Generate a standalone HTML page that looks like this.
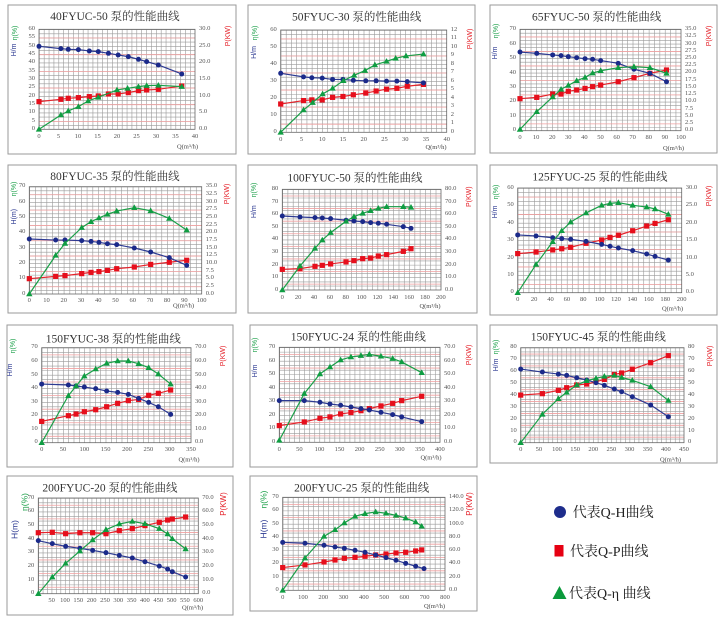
<!DOCTYPE html>
<html><head><meta charset="utf-8">
<style>
html,body{margin:0;padding:0;background:#fff;}
#w{position:relative;width:720px;height:621px;overflow:hidden;background:#fff;}
svg{position:absolute;left:0;top:0;}
.ln{fill:none;stroke-width:1.2;vector-effect:non-scaling-stroke;stroke-linejoin:round}
.h{stroke:#2d3a92}.p{stroke:#e5232b}.e{stroke:#1a9f48}
.mk{fill:none;stroke:none}
.g{stroke:#9a9a9a}.pk{stroke:#f0a0a0}
.fr{fill:#fff;stroke:#9a9a9a;stroke-width:1}
.pa{fill:none;stroke:#666;stroke-width:0.8}
.t{font-family:"Liberation Serif","Noto Serif CJK SC",serif;font-size:11.5px;fill:#333;text-anchor:middle}
.at{font-family:"Liberation Sans",sans-serif;font-size:7px;text-anchor:middle;dominant-baseline:middle}
.q{font-family:"Liberation Serif",serif;font-size:6.5px;fill:#444;text-anchor:middle;dominant-baseline:middle}
.lg{font-family:"Liberation Serif","Noto Serif CJK SC",serif;font-size:14px;fill:#222}
.yl{position:absolute;display:flex;flex-direction:column;justify-content:space-between;width:30px;font:6.5px "Liberation Serif",serif;color:#555}
.yl span{height:0;display:flex;align-items:center;justify-content:flex-end;line-height:1;white-space:nowrap}
.yr span{justify-content:flex-start}
.xl{position:absolute;display:flex;justify-content:space-between;height:0;font:6.5px "Liberation Serif",serif;color:#555}
.xl span{width:0;height:0;display:flex;justify-content:center;align-items:center;white-space:nowrap;line-height:1}
</style></head><body><div id="w">
<svg width="720" height="621" viewBox="0 0 720 621">
<defs>
<marker id="h1" markerUnits="userSpaceOnUse" markerWidth="1" markerHeight="1" overflow="visible"><g transform="scale(0.25641,-0.6)"><circle r="2.5" fill="#1b2a8a"/></g></marker>
<marker id="p1" markerUnits="userSpaceOnUse" markerWidth="1" markerHeight="1" overflow="visible"><g transform="scale(0.25641,-0.6)"><rect x="-2.6" y="-2.6" width="5.2" height="5.2" fill="#e60f1c"/></g></marker>
<marker id="e1" markerUnits="userSpaceOnUse" markerWidth="1" markerHeight="1" overflow="visible"><g transform="scale(0.25641,-0.6)"><path d="M0,-3.3L3.2,2.3L-3.2,2.3Z" fill="#0f9d42"/></g></marker>
<marker id="h2" markerUnits="userSpaceOnUse" markerWidth="1" markerHeight="1" overflow="visible"><g transform="scale(0.24096,-0.58651)"><circle r="2.5" fill="#1b2a8a"/></g></marker>
<marker id="p2" markerUnits="userSpaceOnUse" markerWidth="1" markerHeight="1" overflow="visible"><g transform="scale(0.24096,-0.58651)"><rect x="-2.6" y="-2.6" width="5.2" height="5.2" fill="#e60f1c"/></g></marker>
<marker id="e2" markerUnits="userSpaceOnUse" markerWidth="1" markerHeight="1" overflow="visible"><g transform="scale(0.24096,-0.58651)"><path d="M0,-3.3L3.2,2.3L-3.2,2.3Z" fill="#0f9d42"/></g></marker>
<marker id="h3" markerUnits="userSpaceOnUse" markerWidth="1" markerHeight="1" overflow="visible"><g transform="scale(0.62112,-0.69032)"><circle r="2.5" fill="#1b2a8a"/></g></marker>
<marker id="p3" markerUnits="userSpaceOnUse" markerWidth="1" markerHeight="1" overflow="visible"><g transform="scale(0.62112,-0.69032)"><rect x="-2.6" y="-2.6" width="5.2" height="5.2" fill="#e60f1c"/></g></marker>
<marker id="e3" markerUnits="userSpaceOnUse" markerWidth="1" markerHeight="1" overflow="visible"><g transform="scale(0.62112,-0.69032)"><path d="M0,-3.3L3.2,2.3L-3.2,2.3Z" fill="#0f9d42"/></g></marker>
<marker id="h4" markerUnits="userSpaceOnUse" markerWidth="1" markerHeight="1" overflow="visible"><g transform="scale(0.58005,-0.65236)"><circle r="2.5" fill="#1b2a8a"/></g></marker>
<marker id="p4" markerUnits="userSpaceOnUse" markerWidth="1" markerHeight="1" overflow="visible"><g transform="scale(0.58005,-0.65236)"><rect x="-2.6" y="-2.6" width="5.2" height="5.2" fill="#e60f1c"/></g></marker>
<marker id="e4" markerUnits="userSpaceOnUse" markerWidth="1" markerHeight="1" overflow="visible"><g transform="scale(0.58005,-0.65236)"><path d="M0,-3.3L3.2,2.3L-3.2,2.3Z" fill="#0f9d42"/></g></marker>
<marker id="h5" markerUnits="userSpaceOnUse" markerWidth="1" markerHeight="1" overflow="visible"><g transform="scale(1.26024,-0.79441)"><circle r="2.5" fill="#1b2a8a"/></g></marker>
<marker id="p5" markerUnits="userSpaceOnUse" markerWidth="1" markerHeight="1" overflow="visible"><g transform="scale(1.26024,-0.79441)"><rect x="-2.6" y="-2.6" width="5.2" height="5.2" fill="#e60f1c"/></g></marker>
<marker id="e5" markerUnits="userSpaceOnUse" markerWidth="1" markerHeight="1" overflow="visible"><g transform="scale(1.26024,-0.79441)"><path d="M0,-3.3L3.2,2.3L-3.2,2.3Z" fill="#0f9d42"/></g></marker>
<marker id="h6" markerUnits="userSpaceOnUse" markerWidth="1" markerHeight="1" overflow="visible"><g transform="scale(1.21951,-0.57307)"><circle r="2.5" fill="#1b2a8a"/></g></marker>
<marker id="p6" markerUnits="userSpaceOnUse" markerWidth="1" markerHeight="1" overflow="visible"><g transform="scale(1.21951,-0.57307)"><rect x="-2.6" y="-2.6" width="5.2" height="5.2" fill="#e60f1c"/></g></marker>
<marker id="e6" markerUnits="userSpaceOnUse" markerWidth="1" markerHeight="1" overflow="visible"><g transform="scale(1.21951,-0.57307)"><path d="M0,-3.3L3.2,2.3L-3.2,2.3Z" fill="#0f9d42"/></g></marker>
<marker id="h7" markerUnits="userSpaceOnUse" markerWidth="1" markerHeight="1" overflow="visible"><g transform="scale(2.34428,-0.73687)"><circle r="2.5" fill="#1b2a8a"/></g></marker>
<marker id="p7" markerUnits="userSpaceOnUse" markerWidth="1" markerHeight="1" overflow="visible"><g transform="scale(2.34428,-0.73687)"><rect x="-2.6" y="-2.6" width="5.2" height="5.2" fill="#e60f1c"/></g></marker>
<marker id="e7" markerUnits="userSpaceOnUse" markerWidth="1" markerHeight="1" overflow="visible"><g transform="scale(2.34428,-0.73687)"><path d="M0,-3.3L3.2,2.3L-3.2,2.3Z" fill="#0f9d42"/></g></marker>
<marker id="h8" markerUnits="userSpaceOnUse" markerWidth="1" markerHeight="1" overflow="visible"><g transform="scale(2.48911,-0.73687)"><circle r="2.5" fill="#1b2a8a"/></g></marker>
<marker id="p8" markerUnits="userSpaceOnUse" markerWidth="1" markerHeight="1" overflow="visible"><g transform="scale(2.48911,-0.73687)"><rect x="-2.6" y="-2.6" width="5.2" height="5.2" fill="#e60f1c"/></g></marker>
<marker id="e8" markerUnits="userSpaceOnUse" markerWidth="1" markerHeight="1" overflow="visible"><g transform="scale(2.48911,-0.73687)"><path d="M0,-3.3L3.2,2.3L-3.2,2.3Z" fill="#0f9d42"/></g></marker>
<marker id="h9" markerUnits="userSpaceOnUse" markerWidth="1" markerHeight="1" overflow="visible"><g transform="scale(2.75565,-0.84211)"><circle r="2.5" fill="#1b2a8a"/></g></marker>
<marker id="p9" markerUnits="userSpaceOnUse" markerWidth="1" markerHeight="1" overflow="visible"><g transform="scale(2.75565,-0.84211)"><rect x="-2.6" y="-2.6" width="5.2" height="5.2" fill="#e60f1c"/></g></marker>
<marker id="e9" markerUnits="userSpaceOnUse" markerWidth="1" markerHeight="1" overflow="visible"><g transform="scale(2.75565,-0.84211)"><path d="M0,-3.3L3.2,2.3L-3.2,2.3Z" fill="#0f9d42"/></g></marker>
<marker id="h10" markerUnits="userSpaceOnUse" markerWidth="1" markerHeight="1" overflow="visible"><g transform="scale(3.75,-0.73148)"><circle r="2.5" fill="#1b2a8a"/></g></marker>
<marker id="p10" markerUnits="userSpaceOnUse" markerWidth="1" markerHeight="1" overflow="visible"><g transform="scale(3.75,-0.73148)"><rect x="-2.6" y="-2.6" width="5.2" height="5.2" fill="#e60f1c"/></g></marker>
<marker id="e10" markerUnits="userSpaceOnUse" markerWidth="1" markerHeight="1" overflow="visible"><g transform="scale(3.75,-0.73148)"><path d="M0,-3.3L3.2,2.3L-3.2,2.3Z" fill="#0f9d42"/></g></marker>
<marker id="h11" markerUnits="userSpaceOnUse" markerWidth="1" markerHeight="1" overflow="visible"><g transform="scale(4.92902,-0.75269)"><circle r="2.5" fill="#1b2a8a"/></g></marker>
<marker id="p11" markerUnits="userSpaceOnUse" markerWidth="1" markerHeight="1" overflow="visible"><g transform="scale(4.92902,-0.75269)"><rect x="-2.6" y="-2.6" width="5.2" height="5.2" fill="#e60f1c"/></g></marker>
<marker id="e11" markerUnits="userSpaceOnUse" markerWidth="1" markerHeight="1" overflow="visible"><g transform="scale(4.92902,-0.75269)"><path d="M0,-3.3L3.2,2.3L-3.2,2.3Z" fill="#0f9d42"/></g></marker>
</defs>

<!-- frames -->
<rect class="fr" x="8" y="5" width="228" height="149"/>
<rect class="fr" x="248" y="5" width="227" height="149"/>
<rect class="fr" x="490" y="5" width="227" height="148"/>
<rect class="fr" x="8" y="165" width="228" height="148"/>
<rect class="fr" x="248" y="165" width="229" height="148"/>
<rect class="fr" x="490" y="165" width="227" height="150"/>
<rect class="fr" x="7" y="325" width="226" height="142"/>
<rect class="fr" x="250" y="325" width="227" height="142"/>
<rect class="fr" x="490" y="325" width="227" height="138"/>
<rect class="fr" x="7" y="476" width="226" height="139"/>
<rect class="fr" x="250" y="476" width="227" height="135"/>

<!-- grids -->
<line class="g" x1="39" y1="79.3" x2="195" y2="79.3" stroke-width="100" stroke-dasharray="0.6 4.275"/>
<line class="g" x1="117" y1="29.3" x2="117" y2="129.3" stroke-width="156" stroke-dasharray="0.6 3.567"/>
<line class="pk" x1="117" y1="37.63" x2="117" y2="129.3" stroke-width="156" stroke-dasharray="0.8 15.87"/>

<line class="g" x1="280.7" y1="81.15" x2="446.7" y2="81.15" stroke-width="102.3" stroke-dasharray="0.6 4.5875"/>
<line class="g" x1="363.7" y1="30" x2="363.7" y2="132.3" stroke-width="166" stroke-dasharray="0.6 3.6625"/>
<line class="pk" x1="363.7" y1="38.53" x2="363.7" y2="132.3" stroke-width="166" stroke-dasharray="0.8 16.25"/>

<line class="g" x1="520" y1="80" x2="681" y2="80" stroke-width="101.4" stroke-dasharray="0.6 4.767"/>
<line class="g" x1="600.5" y1="29.3" x2="600.5" y2="130.7" stroke-width="161" stroke-dasharray="0.6 3.021"/>
<line class="pk" x1="600.5" y1="36.54" x2="600.5" y2="130.7" stroke-width="161" stroke-dasharray="0.8 13.69"/>

<line class="g" x1="29.3" y1="240.35" x2="201.7" y2="240.35" stroke-width="107.3" stroke-dasharray="0.6 5.147"/>
<line class="g" x1="115.5" y1="186.7" x2="115.5" y2="294" stroke-width="172.4" stroke-dasharray="0.6 3.232"/>
<line class="pk" x1="115.5" y1="194.36" x2="115.5" y2="294" stroke-width="172.4" stroke-dasharray="0.8 14.53"/>

<line class="g" x1="282.3" y1="239.65" x2="441" y2="239.65" stroke-width="100.7" stroke-dasharray="0.6 4.69"/>
<line class="g" x1="361.65" y1="189.3" x2="361.65" y2="290" stroke-width="158.7" stroke-dasharray="0.6 3.596"/>
<line class="pk" x1="361.65" y1="195.59" x2="361.65" y2="290" stroke-width="158.7" stroke-dasharray="0.8 11.79"/>

<line class="g" x1="517.7" y1="240.35" x2="681.7" y2="240.35" stroke-width="104.7" stroke-dasharray="0.6 4.867"/>
<line class="g" x1="599.7" y1="188" x2="599.7" y2="292.7" stroke-width="164" stroke-dasharray="0.6 3.7625"/>
<line class="pk" x1="599.7" y1="196.73" x2="599.7" y2="292.7" stroke-width="164" stroke-dasharray="0.8 16.65"/>

<line class="g" x1="41.7" y1="395.2" x2="191" y2="395.2" stroke-width="95" stroke-dasharray="0.6 4.732"/>
<line class="g" x1="116.35" y1="347.7" x2="116.35" y2="442.7" stroke-width="149.3" stroke-dasharray="0.6 3.924"/>
<line class="pk" x1="116.35" y1="354.49" x2="116.35" y2="442.7" stroke-width="149.3" stroke-dasharray="0.8 12.77"/>

<line class="g" x1="279.3" y1="394.8" x2="440" y2="394.8" stroke-width="95" stroke-dasharray="0.6 4.422"/>
<line class="g" x1="359.65" y1="347.3" x2="359.65" y2="442.3" stroke-width="160.7" stroke-dasharray="0.6 3.924"/>
<line class="pk" x1="359.65" y1="354.09" x2="359.65" y2="442.3" stroke-width="160.7" stroke-dasharray="0.8 12.77"/>

<line class="g" x1="520.7" y1="395.2" x2="684" y2="395.2" stroke-width="95" stroke-dasharray="0.6 3.936"/>
<line class="g" x1="602.35" y1="347.7" x2="602.35" y2="442.7" stroke-width="163.3" stroke-dasharray="0.6 3.358"/>
<line class="pk" x1="602.35" y1="353.64" x2="602.35" y2="442.7" stroke-width="163.3" stroke-dasharray="0.8 11.075"/>

<line class="g" x1="38.3" y1="545.85" x2="198.3" y2="545.85" stroke-width="95.7" stroke-dasharray="0.6 3.844"/>
<line class="g" x1="118.3" y1="498" x2="118.3" y2="593.7" stroke-width="160" stroke-dasharray="0.6 3.957"/>
<line class="pk" x1="118.3" y1="504.84" x2="118.3" y2="593.7" stroke-width="160" stroke-dasharray="0.8 12.87"/>

<line class="g" x1="282.7" y1="543.8" x2="445" y2="543.8" stroke-width="93" stroke-dasharray="0.6 4.472"/>
<line class="g" x1="363.85" y1="497.3" x2="363.85" y2="590.3" stroke-width="162.3" stroke-dasharray="0.6 3.829"/>
<line class="pk" x1="363.85" y1="503.94" x2="363.85" y2="590.3" stroke-width="162.3" stroke-dasharray="0.8 12.49"/>

<!-- plot borders -->
<rect class="pa" x="39" y="29.3" width="156" height="100"/>
<rect class="pa" x="280.7" y="30" width="166" height="102.3"/>
<rect class="pa" x="520" y="29.3" width="161" height="101.4"/>
<rect class="pa" x="29.3" y="186.7" width="172.4" height="107.3"/>
<rect class="pa" x="282.3" y="189.3" width="158.7" height="100.7"/>
<rect class="pa" x="517.7" y="188" width="164" height="104.7"/>
<rect class="pa" x="41.7" y="347.7" width="149.3" height="95"/>
<rect class="pa" x="279.3" y="347.3" width="160.7" height="95"/>
<rect class="pa" x="520.7" y="347.7" width="163.3" height="95"/>
<rect class="pa" x="38.3" y="498" width="160" height="95.7"/>
<rect class="pa" x="282.7" y="497.3" width="162.3" height="93"/>

<!-- C1 -->
<g transform="translate(39,129.3) scale(3.9,-1.6667)">
<polyline class="ln p" points="0,16.6 5.6,18 7.5,18.6 10.1,19 12.9,19.6 15.2,20 17.8,21.2 20.3,21.2 22.9,22 25.5,23.2 27.6,23.6 30.6,24 36.6,26"/>
<polyline class="mk" marker-start="url(#p1)" marker-mid="url(#p1)" marker-end="url(#p1)" points="0,16.6 5.6,18 7.5,18.6 10.1,19 12.9,19.6 15.2,20 17.8,21.2 20.3,21.2 22.9,22 25.5,23.2 27.6,23.6 30.6,24 36.6,26"/>
<polyline class="ln h" points="0,49.8 5.6,48.4 7.5,48 10.1,47.8 12.9,47 15.2,46.6 17.8,45.6 20.3,44.6 22.9,43.6 25.5,42 27.6,40.6 30.6,38.6 36.6,33.2"/>
<polyline class="mk" marker-start="url(#h1)" marker-mid="url(#h1)" marker-end="url(#h1)" points="0,49.8 5.6,48.4 7.5,48 10.1,47.8 12.9,47 15.2,46.6 17.8,45.6 20.3,44.6 22.9,43.6 25.5,42 27.6,40.6 30.6,38.6 36.6,33.2"/>
<polyline class="ln e" points="0,0 5.6,8.6 7.5,11 10.1,13.6 12.6,17 15.2,19.2 20,23.6 22.7,24.6 25.5,25.6 27.6,26.2 30.6,26.4 36.6,25.6"/>
<polyline class="mk" marker-start="url(#e1)" marker-mid="url(#e1)" marker-end="url(#e1)" points="0,0 5.6,8.6 7.5,11 10.1,13.6 12.6,17 15.2,19.2 20,23.6 22.7,24.6 25.5,25.6 27.6,26.2 30.6,26.4 36.6,25.6"/>
</g>
<!-- C2 -->
<g transform="translate(280.7,132.3) scale(4.15,-1.705)">
<polyline class="ln p" points="0,16.6 5.5,18.6 7.5,19 10,19 12.5,20.5 15,21 17.5,22 20.5,23 23,24.2 25.5,25.3 28,25.8 30.5,27 34.4,28.1"/>
<polyline class="mk" marker-start="url(#p2)" marker-mid="url(#p2)" marker-end="url(#p2)" points="0,16.6 5.5,18.6 7.5,19 10,19 12.5,20.5 15,21 17.5,22 20.5,23 23,24.2 25.5,25.3 28,25.8 30.5,27 34.4,28.1"/>
<polyline class="ln h" points="0,34.6 5.5,32.5 7.5,32 10,31.8 12.5,31 15,31 17.5,30.5 20.5,30.2 23,30.2 25.5,30 28,30 30.5,29.7 34.4,29"/>
<polyline class="mk" marker-start="url(#h2)" marker-mid="url(#h2)" marker-end="url(#h2)" points="0,34.6 5.5,32.5 7.5,32 10,31.8 12.5,31 15,31 17.5,30.5 20.5,30.2 23,30.2 25.5,30 28,30 30.5,29.7 34.4,29"/>
<polyline class="ln e" points="0,0 5.5,13.1 7.7,17.4 10.1,22.5 12.5,25.8 15.1,30.3 17.7,33.4 20.3,36.2 22.7,39.5 25.5,41.6 27.7,43.4 30.2,44.8 34.4,45.9"/>
<polyline class="mk" marker-start="url(#e2)" marker-mid="url(#e2)" marker-end="url(#e2)" points="0,0 5.5,13.1 7.7,17.4 10.1,22.5 12.5,25.8 15.1,30.3 17.7,33.4 20.3,36.2 22.7,39.5 25.5,41.6 27.7,43.4 30.2,44.8 34.4,45.9"/>
</g>
<!-- C3 -->
<g transform="translate(520,130.7) scale(1.61,-1.4486)">
<polyline class="ln p" points="0,22.1 10.4,23 20.3,25.3 25.5,25.3 30,27.2 35.2,28.1 40.4,29.2 45.1,30.4 50.1,31.5 61,33.8 70.8,36.6 80.7,39.6 91,41.9"/>
<polyline class="mk" marker-start="url(#p3)" marker-mid="url(#p3)" marker-end="url(#p3)" points="0,22.1 10.4,23 20.3,25.3 25.5,25.3 30,27.2 35.2,28.1 40.4,29.2 45.1,30.4 50.1,31.5 61,33.8 70.8,36.6 80.7,39.6 91,41.9"/>
<polyline class="ln h" points="0,54.3 10.4,53.4 20.3,52.3 25.5,51.8 30,51.1 35.2,50.4 40.4,49.7 45.1,49.3 50.1,48.4 61,46.5 70.8,42.4 80.7,39.6 91,33.8"/>
<polyline class="mk" marker-start="url(#h3)" marker-mid="url(#h3)" marker-end="url(#h3)" points="0,54.3 10.4,53.4 20.3,52.3 25.5,51.8 30,51.1 35.2,50.4 40.4,49.7 45.1,49.3 50.1,48.4 61,46.5 70.8,42.4 80.7,39.6 91,33.8"/>
<polyline class="ln e" points="0,0.9 10.4,13.1 20.3,23.3 25.5,28.6 30,31.3 35.2,34.5 40.4,36.8 45.1,39.8 50.1,41.4 61,43.5 70.8,44.2 80.7,43.5 91,39.6"/>
<polyline class="mk" marker-start="url(#e3)" marker-mid="url(#e3)" marker-end="url(#e3)" points="0,0.9 10.4,13.1 20.3,23.3 25.5,28.6 30,31.3 35.2,34.5 40.4,36.8 45.1,39.8 50.1,41.4 61,43.5 70.8,44.2 80.7,43.5 91,39.6"/>
</g>
<!-- C4 -->
<g transform="translate(29.3,294) scale(1.724,-1.5329)">
<polyline class="ln p" points="0,10 15.3,11.5 20.7,12 30.4,13.3 35.8,14.1 40.4,14.6 45.3,15.4 50.7,16.5 60.9,17.6 70.4,19.3 81.2,20.7 91.3,22"/>
<polyline class="mk" marker-start="url(#p4)" marker-mid="url(#p4)" marker-end="url(#p4)" points="0,10 15.3,11.5 20.7,12 30.4,13.3 35.8,14.1 40.4,14.6 45.3,15.4 50.7,16.5 60.9,17.6 70.4,19.3 81.2,20.7 91.3,22"/>
<polyline class="ln h" points="0,35.9 15.3,35.2 20.7,35.2 30.4,34.8 35.8,34.3 40.4,33.7 45.3,32.8 50.7,32.2 60.9,30 70.4,27.4 81.2,23.7 91.3,18.7"/>
<polyline class="mk" marker-start="url(#h4)" marker-mid="url(#h4)" marker-end="url(#h4)" points="0,35.9 15.3,35.2 20.7,35.2 30.4,34.8 35.8,34.3 40.4,33.7 45.3,32.8 50.7,32.2 60.9,30 70.4,27.4 81.2,23.7 91.3,18.7"/>
<polyline class="ln e" points="0,0 15.3,25.2 20.7,33 30.4,43.3 35.8,47.2 40.4,49.6 45.3,52 50.7,54.1 60.9,56.3 70.4,54.3 81.2,49.3 91.3,41.7"/>
<polyline class="mk" marker-start="url(#e4)" marker-mid="url(#e4)" marker-end="url(#e4)" points="0,0 15.3,25.2 20.7,33 30.4,43.3 35.8,47.2 40.4,49.6 45.3,52 50.7,54.1 60.9,56.3 70.4,54.3 81.2,49.3 91.3,41.7"/>
</g>
<!-- C5 -->
<g transform="translate(282.3,290) scale(0.7935,-1.2588)">
<polyline class="ln p" points="0,16.4 22.3,17 41.2,18.8 50.4,19.6 60.9,20.7 80.3,22.3 90.3,23.3 101.3,24.9 111.3,25.4 121,27 131.5,28.1 152.5,30.7 162.2,32.8"/>
<polyline class="mk" marker-start="url(#p5)" marker-mid="url(#p5)" marker-end="url(#p5)" points="0,16.4 22.3,17 41.2,18.8 50.4,19.6 60.9,20.7 80.3,22.3 90.3,23.3 101.3,24.9 111.3,25.4 121,27 131.5,28.1 152.5,30.7 162.2,32.8"/>
<polyline class="ln h" points="0,58.8 22.3,58 41.2,57.5 50.4,57.2 60.9,56.7 80.3,55.4 90.3,54.8 101.3,54.3 111.3,53.5 121,53 131.5,52.2 152.5,50.3 162.2,49"/>
<polyline class="mk" marker-start="url(#h5)" marker-mid="url(#h5)" marker-end="url(#h5)" points="0,58.8 22.3,58 41.2,57.5 50.4,57.2 60.9,56.7 80.3,55.4 90.3,54.8 101.3,54.3 111.3,53.5 121,53 131.5,52.2 152.5,50.3 162.2,49"/>
<polyline class="ln e" points="0,0 22.3,19.1 41.2,33.1 50.4,39.7 60.9,45.6 80.3,54.6 90.3,58.3 101.3,60.9 111.3,63 121,64.9 131.5,66.2 152.5,66.2 162.2,65.7"/>
<polyline class="mk" marker-start="url(#e5)" marker-mid="url(#e5)" marker-end="url(#e5)" points="0,0 22.3,19.1 41.2,33.1 50.4,39.7 60.9,45.6 80.3,54.6 90.3,58.3 101.3,60.9 111.3,63 121,64.9 131.5,66.2 152.5,66.2 162.2,65.7"/>
</g>
<!-- C6 -->
<g transform="translate(517.7,292.7) scale(0.82,-1.745)">
<polyline class="ln p" points="0,22.4 22.4,23.3 42.7,24.5 53.7,25.2 64.6,26 83.3,28.3 102.4,30.2 112.6,31.7 122.8,32.9 140.2,35.5 157.3,38.2 167.5,39.7 183.7,41.8"/>
<polyline class="mk" marker-start="url(#p6)" marker-mid="url(#p6)" marker-end="url(#p6)" points="0,22.4 22.4,23.3 42.7,24.5 53.7,25.2 64.6,26 83.3,28.3 102.4,30.2 112.6,31.7 122.8,32.9 140.2,35.5 157.3,38.2 167.5,39.7 183.7,41.8"/>
<polyline class="ln h" points="0,33.1 22.4,32.5 42.7,31.5 53.7,31 64.6,30.6 83.3,29.4 102.4,27.7 112.6,26.6 122.8,25.6 140.2,24.1 157.3,22.2 167.5,20.8 183.7,18.7"/>
<polyline class="mk" marker-start="url(#h6)" marker-mid="url(#h6)" marker-end="url(#h6)" points="0,33.1 22.4,32.5 42.7,31.5 53.7,31 64.6,30.6 83.3,29.4 102.4,27.7 112.6,26.6 122.8,25.6 140.2,24.1 157.3,22.2 167.5,20.8 183.7,18.7"/>
<polyline class="ln e" points="0,0 22.4,16.2 42.7,29.2 53.7,35.5 64.6,40.5 83.3,45.7 102.4,50.1 112.6,51.2 122.8,51.6 140.2,50.1 157.3,49.1 167.5,48 183.7,44.9"/>
<polyline class="mk" marker-start="url(#e6)" marker-mid="url(#e6)" marker-end="url(#e6)" points="0,0 22.4,16.2 42.7,29.2 53.7,35.5 64.6,40.5 83.3,45.7 102.4,50.1 112.6,51.2 122.8,51.6 140.2,50.1 157.3,49.1 167.5,48 183.7,44.9"/>
</g>
<!-- C7 -->
<g transform="translate(41.7,442.7) scale(0.42657,-1.3571)">
<polyline class="ln p" points="0,15.7 62.5,19.9 80.5,21.1 100,22.8 126.6,24.3 152.3,26.5 178.1,29 203.1,31 227.3,31.9 250.8,34.9 273.4,36.4 302.3,38.8"/>
<polyline class="mk" marker-start="url(#p7)" marker-mid="url(#p7)" marker-end="url(#p7)" points="0,15.7 62.5,19.9 80.5,21.1 100,22.8 126.6,24.3 152.3,26.5 178.1,29 203.1,31 227.3,31.9 250.8,34.9 273.4,36.4 302.3,38.8"/>
<polyline class="ln h" points="0,43.2 62.5,42.5 80.5,41.8 100,41 126.6,39.8 152.3,38.1 178.1,37.1 203.1,35.6 227.3,32.7 250.8,29.7 273.4,26.5 302.3,20.9"/>
<polyline class="mk" marker-start="url(#h7)" marker-mid="url(#h7)" marker-end="url(#h7)" points="0,43.2 62.5,42.5 80.5,41.8 100,41 126.6,39.8 152.3,38.1 178.1,37.1 203.1,35.6 227.3,32.7 250.8,29.7 273.4,26.5 302.3,20.9"/>
<polyline class="ln e" points="0,0 62.5,34.6 80.5,41.8 100,49.1 126.6,54.3 152.3,58.5 178.1,60.2 203.1,60.2 227.3,58.2 250.8,55.3 273.4,50.6 302.3,43.2"/>
<polyline class="mk" marker-start="url(#e7)" marker-mid="url(#e7)" marker-end="url(#e7)" points="0,0 62.5,34.6 80.5,41.8 100,49.1 126.6,54.3 152.3,58.5 178.1,60.2 203.1,60.2 227.3,58.2 250.8,55.3 273.4,50.6 302.3,43.2"/>
</g>
<!-- C8 -->
<g transform="translate(279.3,442.3) scale(0.40175,-1.3571)">
<polyline class="ln p" points="0,12.3 62.2,15 101.2,17.7 126.1,18.7 152.7,20.9 178.4,21.9 203.3,23.3 224.1,24.8 253.1,26.8 282.2,28.7 304.6,30.7 354.4,33.9"/>
<polyline class="mk" marker-start="url(#p8)" marker-mid="url(#p8)" marker-end="url(#p8)" points="0,12.3 62.2,15 101.2,17.7 126.1,18.7 152.7,20.9 178.4,21.9 203.3,23.3 224.1,24.8 253.1,26.8 282.2,28.7 304.6,30.7 354.4,33.9"/>
<polyline class="ln h" points="0,30.7 62.2,30.7 101.2,29.5 126.1,28.2 152.7,27.3 178.4,26 203.3,24.8 224.1,23.8 253.1,22.1 282.2,20.4 304.6,18.7 354.4,15.2"/>
<polyline class="mk" marker-start="url(#h8)" marker-mid="url(#h8)" marker-end="url(#h8)" points="0,30.7 62.2,30.7 101.2,29.5 126.1,28.2 152.7,27.3 178.4,26 203.3,24.8 224.1,23.8 253.1,22.1 282.2,20.4 304.6,18.7 354.4,15.2"/>
<polyline class="ln e" points="0,1.5 62.2,35.9 101.2,50.4 126.1,55.5 152.7,60.7 178.4,62.9 203.3,63.9 224.1,64.8 253.1,63.4 282.2,61.7 304.6,59.2 354.4,51.3"/>
<polyline class="mk" marker-start="url(#e8)" marker-mid="url(#e8)" marker-end="url(#e8)" points="0,1.5 62.2,35.9 101.2,50.4 126.1,55.5 152.7,60.7 178.4,62.9 203.3,63.9 224.1,64.8 253.1,63.4 282.2,61.7 304.6,59.2 354.4,51.3"/>
</g>
<!-- C9 -->
<g transform="translate(520.7,442.7) scale(0.36289,-1.1875)">
<polyline class="ln p" points="0,40.1 59.7,41.3 103.8,44.1 126.7,46.3 154.3,48.6 181.8,49.4 207.5,51.4 230.5,53.3 258,57.5 278.2,58.7 307.6,61.8 358.1,67.4 406.8,73.3"/>
<polyline class="mk" marker-start="url(#p9)" marker-mid="url(#p9)" marker-end="url(#p9)" points="0,40.1 59.7,41.3 103.8,44.1 126.7,46.3 154.3,48.6 181.8,49.4 207.5,51.4 230.5,53.3 258,57.5 278.2,58.7 307.6,61.8 358.1,67.4 406.8,73.3"/>
<polyline class="ln h" points="0,62 59.7,59.5 103.8,57.8 126.7,56.7 154.3,54.7 181.8,52.8 207.5,50.5 230.5,48.3 258,45.2 278.2,42.9 307.6,38.7 358.1,31.7 406.8,21.9"/>
<polyline class="mk" marker-start="url(#h9)" marker-mid="url(#h9)" marker-end="url(#h9)" points="0,62 59.7,59.5 103.8,57.8 126.7,56.7 154.3,54.7 181.8,52.8 207.5,50.5 230.5,48.3 258,45.2 278.2,42.9 307.6,38.7 358.1,31.7 406.8,21.9"/>
<polyline class="ln e" points="0,0 59.7,23.9 103.8,37.1 126.7,42.4 154.3,48.6 181.8,52.2 207.5,54.2 230.5,55.9 258,56.7 278.2,55 307.6,52.5 358.1,47.2 406.8,35.6"/>
<polyline class="mk" marker-start="url(#e9)" marker-mid="url(#e9)" marker-end="url(#e9)" points="0,0 59.7,23.9 103.8,37.1 126.7,42.4 154.3,48.6 181.8,52.2 207.5,54.2 230.5,55.9 258,56.7 278.2,55 307.6,52.5 358.1,47.2 406.8,35.6"/>
</g>
<!-- C10 -->
<g transform="translate(38.3,593.7) scale(0.26667,-1.3671)">
<polyline class="ln p" points="0,44.6 52.5,44.9 102.5,43.9 156,44.6 203.8,44.6 253.8,43.9 303.8,46.1 352.5,47.6 400,49.8 453.8,52.2 485,53.9 502.5,54.6 552.5,56.1"/>
<polyline class="mk" marker-start="url(#p10)" marker-mid="url(#p10)" marker-end="url(#p10)" points="0,44.6 52.5,44.9 102.5,43.9 156,44.6 203.8,44.6 253.8,43.9 303.8,46.1 352.5,47.6 400,49.8 453.8,52.2 485,53.9 502.5,54.6 552.5,56.1"/>
<polyline class="ln h" points="0,38.8 52.5,36.6 102.5,34.6 156,33.2 203.8,31.7 253.8,30 303.8,28 352.5,26.1 400,23.4 453.8,20.2 485,18 502.5,16.1 552.5,12.2"/>
<polyline class="mk" marker-start="url(#h10)" marker-mid="url(#h10)" marker-end="url(#h10)" points="0,38.8 52.5,36.6 102.5,34.6 156,33.2 203.8,31.7 253.8,30 303.8,28 352.5,26.1 400,23.4 453.8,20.2 485,18 502.5,16.1 552.5,12.2"/>
<polyline class="ln e" points="0,0 52.5,12.2 102.5,22.2 156,31.2 203.8,39.3 253.8,46.8 303.8,51 352.5,52.9 400,51.2 453.8,47.6 485,43.7 502.5,40.2 552.5,32.7"/>
<polyline class="mk" marker-start="url(#e10)" marker-mid="url(#e10)" marker-end="url(#e10)" points="0,0 52.5,12.2 102.5,22.2 156,31.2 203.8,39.3 253.8,46.8 303.8,51 352.5,52.9 400,51.2 453.8,47.6 485,43.7 502.5,40.2 552.5,32.7"/>
</g>
<!-- C11 -->
<g transform="translate(282.7,590.3) scale(0.20288,-1.3286)">
<polyline class="ln p" points="0,17.1 110,19.1 203.7,21.3 257.9,22.8 303.9,24.1 356.5,24.8 405.7,25.6 458.3,26.6 509.2,27.3 558.5,28.1 606.2,28.6 655.4,29.6 685,30.4"/>
<polyline class="mk" marker-start="url(#p11)" marker-mid="url(#p11)" marker-end="url(#p11)" points="0,17.1 110,19.1 203.7,21.3 257.9,22.8 303.9,24.1 356.5,24.8 405.7,25.6 458.3,26.6 509.2,27.3 558.5,28.1 606.2,28.6 655.4,29.6 685,30.4"/>
<polyline class="ln h" points="0,36.1 110,35.4 203.7,33.9 257.9,32.6 303.9,31.6 356.5,30.1 405.7,28.6 458.3,26.6 509.2,24.6 558.5,22.6 606.2,20.3 655.4,18.1 696.5,16.3"/>
<polyline class="mk" marker-start="url(#h11)" marker-mid="url(#h11)" marker-end="url(#h11)" points="0,36.1 110,35.4 203.7,33.9 257.9,32.6 303.9,31.6 356.5,30.1 405.7,28.6 458.3,26.6 509.2,24.6 558.5,22.6 606.2,20.3 655.4,18.1 696.5,16.3"/>
<polyline class="ln e" points="0,0 110,24.3 203.7,40.6 257.9,45.6 303.9,50.7 356.5,55.7 405.7,57.7 458.3,59 509.2,58 558.5,56.4 606.2,54.4 655.4,51.4 685,48.2"/>
<polyline class="mk" marker-start="url(#e11)" marker-mid="url(#e11)" marker-end="url(#e11)" points="0,0 110,24.3 203.7,40.6 257.9,45.6 303.9,50.7 356.5,55.7 405.7,57.7 458.3,59 509.2,58 558.5,56.4 606.2,54.4 655.4,51.4 685,48.2"/>
</g>

<!-- titles -->
<text class="t" x="115" y="20">40FYUC-50 泵的性能曲线</text>
<text class="t" x="356.7" y="20.7">50FYUC-30 泵的性能曲线</text>
<text class="t" x="596.7" y="20.7">65FYUC-50 泵的性能曲线</text>
<text class="t" x="115" y="180">80FYUC-35 泵的性能曲线</text>
<text class="t" x="355" y="181.3">100FYUC-50 泵的性能曲线</text>
<text class="t" x="600" y="180.7">125FYUC-25 泵的性能曲线</text>
<text class="t" x="113.3" y="342.3">150FYUC-38 泵的性能曲线</text>
<text class="t" x="358.3" y="340.7">150FYUC-24 泵的性能曲线</text>
<text class="t" x="598.3" y="340.7">150FYUC-45 泵的性能曲线</text>
<text class="t" x="110" y="491.3">200FYUC-20 泵的性能曲线</text>
<text class="t" x="361.7" y="491.3">200FYUC-25 泵的性能曲线</text>

<!-- rotated axis titles -->
<g class="at">
<text transform="translate(15,33) rotate(-90)" fill="#1a9f48">η(%)</text>
<text transform="translate(14,50) rotate(-90)" fill="#2d3a92">H/m</text>
<text transform="translate(228,36) rotate(-90)" fill="#e5232b">P(KW)</text>
<text transform="translate(255,33) rotate(-90)" fill="#1a9f48">η(%)</text>
<text transform="translate(254,52.5) rotate(-90)" fill="#2d3a92">H/m</text>
<text transform="translate(470,39) rotate(-90)" fill="#e5232b">P(KW)</text>
<text transform="translate(496,31) rotate(-90)" fill="#1a9f48">η(%)</text>
<text transform="translate(495,53) rotate(-90)" fill="#2d3a92">H/m</text>
<text transform="translate(709,36) rotate(-90)" fill="#e5232b">P(KW)</text>
<text transform="translate(14,189) rotate(-90)" fill="#1a9f48">η(%)</text>
<text transform="translate(14,216.7) rotate(-90)" fill="#2d3a92">H(m)</text>
<text transform="translate(227,194) rotate(-90)" fill="#e5232b">P(KW)</text>
<text transform="translate(254,190) rotate(-90)" fill="#1a9f48">η(%)</text>
<text transform="translate(254,211.7) rotate(-90)" fill="#2d3a92">H/m</text>
<text transform="translate(469,196.7) rotate(-90)" fill="#e5232b">P(KW)</text>
<text transform="translate(496,192) rotate(-90)" fill="#1a9f48">η(%)</text>
<text transform="translate(495,212) rotate(-90)" fill="#2d3a92">H/m</text>
<text transform="translate(709,196) rotate(-90)" fill="#e5232b">P(KW)</text>
<text transform="translate(13,346) rotate(-90)" fill="#1a9f48">η(%)</text>
<text transform="translate(10,370) rotate(-90)" fill="#2d3a92">H/m</text>
<text transform="translate(223,356) rotate(-90)" fill="#e5232b">P(KW)</text>
<text transform="translate(255,345) rotate(-90)" fill="#1a9f48">η(%)</text>
<text transform="translate(255,371) rotate(-90)" fill="#2d3a92">H/m</text>
<text transform="translate(469,355) rotate(-90)" fill="#e5232b">P(KW)</text>
<text transform="translate(496,347) rotate(-90)" fill="#1a9f48">η(%)</text>
<text transform="translate(496,365) rotate(-90)" fill="#2d3a92">H/m</text>
<text transform="translate(710,356) rotate(-90)" fill="#e5232b">P(KW)</text>
<text transform="translate(25,502) rotate(-90)" fill="#1a9f48" font-size="8.5">η(%)</text>
<text transform="translate(15,529.5) rotate(-90)" fill="#2d3a92" font-size="8.5">H(m)</text>
<text transform="translate(224,504) rotate(-90)" fill="#e5232b" font-size="8">P(KW)</text>
<text transform="translate(264,499.5) rotate(-90)" fill="#1a9f48" font-size="8.5">η(%)</text>
<text transform="translate(264,529) rotate(-90)" fill="#2d3a92" font-size="8.5">H(m)</text>
<text transform="translate(470,504) rotate(-90)" fill="#e5232b" font-size="8">P(KW)</text>
</g>

<!-- Q labels -->
<text class="q" x="187.5" y="147">Q(m³/h)</text>
<text class="q" x="436" y="147.7">Q(m³/h)</text>
<text class="q" x="673.5" y="148.3">Q(m³/h)</text>
<text class="q" x="183.5" y="306">Q(m³/h)</text>
<text class="q" x="430" y="306.7">Q(m³/h)</text>
<text class="q" x="672.5" y="309">Q(m³/h)</text>
<text class="q" x="189" y="460">Q(m³/h)</text>
<text class="q" x="431" y="458">Q(m³/h)</text>
<text class="q" x="670.5" y="460">Q(m³/h)</text>
<text class="q" x="192.5" y="608">Q(m³/h)</text>
<text class="q" x="434.5" y="606.3" font-size="11">Q(m³/h)</text>

<!-- legend -->
<circle cx="560" cy="512" r="6" fill="#1e2d8c"/>
<text class="lg" x="572.7" y="517">代表Q-H曲线</text>
<rect x="554.5" y="545" width="9" height="11.5" fill="#e60012"/>
<text class="lg" x="570" y="556">代表Q-P曲线</text>
<path d="M559.5,586L566.5,599L552.5,599Z" fill="#0b9a3c"/>
<text class="lg" x="569" y="598">代表Q-η 曲线</text>
</svg>

<!-- tick labels C1 -->
<div class="yl" style="left:5px;top:29.3px;height:100px"><span>60</span><span>55</span><span>50</span><span>45</span><span>40</span><span>35</span><span>30</span><span>25</span><span>20</span><span>15</span><span>10</span><span>5</span><span>0</span></div>
<div class="yl yr" style="left:199px;top:29.3px;height:100px"><span>30.0</span><span>25.0</span><span>20.0</span><span>15.0</span><span>10.0</span><span>5.0</span><span>0.0</span></div>
<div class="xl" style="left:39px;top:137.3px;width:156px"><span>0</span><span>5</span><span>10</span><span>15</span><span>20</span><span>25</span><span>30</span><span>35</span><span>40</span></div>
<!-- C2 -->
<div class="yl" style="left:246.7px;top:30px;height:102.3px"><span>60</span><span>50</span><span>40</span><span>30</span><span>20</span><span>10</span><span>0</span></div>
<div class="yl yr" style="left:450.7px;top:30px;height:102.3px"><span>12</span><span>11</span><span>10</span><span>9</span><span>8</span><span>7</span><span>6</span><span>5</span><span>4</span><span>3</span><span>2</span><span>1</span><span>0</span></div>
<div class="xl" style="left:280.7px;top:140.3px;width:166px"><span>0</span><span>5</span><span>10</span><span>15</span><span>20</span><span>25</span><span>30</span><span>35</span><span>40</span></div>
<!-- C3 -->
<div class="yl" style="left:486px;top:29.3px;height:101.4px"><span>70</span><span>60</span><span>50</span><span>40</span><span>30</span><span>20</span><span>10</span><span>0</span></div>
<div class="yl yr" style="left:685px;top:29.3px;height:101.4px"><span>35.0</span><span>32.5</span><span>30.0</span><span>27.5</span><span>25.0</span><span>22.5</span><span>20.0</span><span>17.5</span><span>15.0</span><span>12.5</span><span>10.0</span><span>7.5</span><span>5.0</span><span>2.5</span><span>0.0</span></div>
<div class="xl" style="left:520px;top:138.7px;width:161px"><span>0</span><span>10</span><span>20</span><span>30</span><span>40</span><span>50</span><span>60</span><span>70</span><span>80</span><span>90</span><span>100</span></div>
<!-- C4 -->
<div class="yl" style="left:-4.7px;top:186.7px;height:107.3px"><span>70</span><span>60</span><span>50</span><span>40</span><span>30</span><span>20</span><span>10</span><span>0</span></div>
<div class="yl yr" style="left:205.7px;top:186.7px;height:107.3px"><span>35.0</span><span>32.5</span><span>30.0</span><span>27.5</span><span>25.0</span><span>22.5</span><span>20.0</span><span>17.5</span><span>15.0</span><span>12.5</span><span>10.0</span><span>7.5</span><span>5.0</span><span>2.5</span><span>0.0</span></div>
<div class="xl" style="left:29.3px;top:301px;width:172.4px"><span>0</span><span>10</span><span>20</span><span>30</span><span>40</span><span>50</span><span>60</span><span>70</span><span>80</span><span>90</span><span>100</span></div>
<!-- C5 -->
<div class="yl" style="left:248.3px;top:189.3px;height:100.7px"><span>80</span><span>70</span><span>60</span><span>50</span><span>40</span><span>30</span><span>20</span><span>10</span><span>0</span></div>
<div class="yl yr" style="left:445px;top:189.3px;height:100.7px"><span>80.0</span><span>70.0</span><span>60.0</span><span>50.0</span><span>40.0</span><span>30.0</span><span>20.0</span><span>10.0</span><span>0.0</span></div>
<div class="xl" style="left:282.3px;top:298px;width:158.7px"><span>0</span><span>20</span><span>40</span><span>60</span><span>80</span><span>100</span><span>120</span><span>140</span><span>160</span><span>180</span><span>200</span></div>
<!-- C6 -->
<div class="yl" style="left:483.7px;top:188px;height:104.7px"><span>60</span><span>50</span><span>40</span><span>30</span><span>20</span><span>10</span><span>0</span></div>
<div class="yl yr" style="left:685.7px;top:188px;height:104.7px"><span>30.0</span><span>25.0</span><span>20.0</span><span>15.0</span><span>10.0</span><span>5.0</span><span>0.0</span></div>
<div class="xl" style="left:517.7px;top:300.7px;width:164px"><span>0</span><span>20</span><span>40</span><span>60</span><span>80</span><span>100</span><span>120</span><span>140</span><span>160</span><span>180</span><span>200</span></div>
<!-- C7 -->
<div class="yl" style="left:7.7px;top:347.7px;height:95px"><span>70</span><span>60</span><span>50</span><span>40</span><span>30</span><span>20</span><span>10</span><span>0</span></div>
<div class="yl yr" style="left:195px;top:347.7px;height:95px"><span>70.0</span><span>60.0</span><span>50.0</span><span>40.0</span><span>30.0</span><span>20.0</span><span>10.0</span><span>0.0</span></div>
<div class="xl" style="left:41.7px;top:450.7px;width:149.3px"><span>0</span><span>50</span><span>100</span><span>150</span><span>200</span><span>250</span><span>300</span><span>350</span></div>
<!-- C8 -->
<div class="yl" style="left:245.3px;top:347.3px;height:95px"><span>70</span><span>60</span><span>50</span><span>40</span><span>30</span><span>20</span><span>10</span><span>0</span></div>
<div class="yl yr" style="left:444px;top:347.3px;height:95px"><span>70.0</span><span>60.0</span><span>50.0</span><span>40.0</span><span>30.0</span><span>20.0</span><span>10.0</span><span>0.0</span></div>
<div class="xl" style="left:279.3px;top:450.3px;width:160.7px"><span>0</span><span>50</span><span>100</span><span>150</span><span>200</span><span>250</span><span>300</span><span>350</span><span>400</span></div>
<!-- C9 -->
<div class="yl" style="left:486.7px;top:347.7px;height:95px"><span>80</span><span>70</span><span>60</span><span>50</span><span>40</span><span>30</span><span>20</span><span>10</span><span>0</span></div>
<div class="yl yr" style="left:688px;top:347.7px;height:95px"><span>80</span><span>70</span><span>60</span><span>50</span><span>40</span><span>30</span><span>20</span><span>10</span><span>0</span></div>
<div class="xl" style="left:520.7px;top:450.7px;width:163.3px"><span>0</span><span>50</span><span>100</span><span>150</span><span>200</span><span>250</span><span>300</span><span>350</span><span>400</span><span>450</span></div>
<!-- C10 -->
<div class="yl" style="left:4.3px;top:498px;height:95.7px"><span>70</span><span>60</span><span>50</span><span>40</span><span>30</span><span>20</span><span>10</span><span>0</span></div>
<div class="yl yr" style="left:202.3px;top:498px;height:95.7px"><span>70.0</span><span>60.0</span><span>50.0</span><span>40.0</span><span>30.0</span><span>20.0</span><span>10.0</span><span>0.0</span></div>
<div class="xl" style="left:38.3px;top:601.5px;width:160px"><span></span><span>50</span><span>100</span><span>150</span><span>200</span><span>250</span><span>300</span><span>350</span><span>400</span><span>450</span><span>500</span><span>550</span><span>600</span></div>
<!-- C11 -->
<div class="yl" style="left:248.7px;top:497.3px;height:93px"><span>70</span><span>60</span><span>50</span><span>40</span><span>30</span><span>20</span><span>10</span><span>0</span></div>
<div class="yl yr" style="left:449px;top:497.3px;height:93px"><span>140.0</span><span>120.0</span><span>100.0</span><span>80.0</span><span>60.0</span><span>40.0</span><span>20.0</span><span>0.0</span></div>
<div class="xl" style="left:282.7px;top:598.3px;width:162.3px"><span>0</span><span>100</span><span>200</span><span>300</span><span>400</span><span>500</span><span>600</span><span>700</span><span>800</span></div>
</div></body></html>
